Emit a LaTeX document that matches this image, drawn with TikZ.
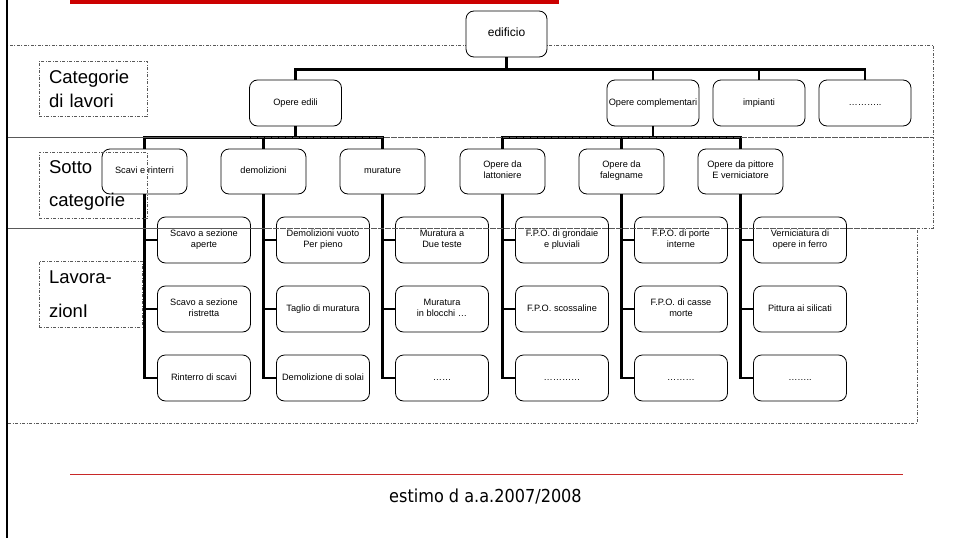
\documentclass[tikz,border=0pt]{standalone}
\usepackage{fontspec}
\setmainfont{Liberation Sans}
\newfontfamily\footfont{DejaVu Sans}[FakeStretch=0.9]
\usetikzlibrary{positioning}

\definecolor{barred}{RGB}{204,0,0}
\definecolor{linered}{RGB}{200,40,40}

\tikzset{
  box/.style={draw,rounded corners=8pt,fill=white,line width=0.8pt,align=center,
    inner sep=1pt,font=\fontsize{9.2}{11}\selectfont,
    execute at begin node={\strut},execute at end node={\strut}},
  topbox/.style={box,minimum width=81pt,minimum height=46pt,font=\fontsize{12}{14}\selectfont},
  catbox/.style={box,minimum width=92pt,minimum height=46pt},
  subbox/.style={box,minimum width=85pt,minimum height=45pt},
  workbox/.style={box,minimum width=93pt,minimum height=46pt},
  conn/.style={line width=2.8pt},
  band/.style={draw=black!65,line width=0.7pt,dash pattern=on 3pt off 1.5pt on 1pt off 1.5pt},
  bandlabel/.style={band,align=left,inner xsep=10pt,inner ysep=0pt}
}

\begin{document}
\begin{tikzpicture}[x=1pt,y=-1pt]
    \useasboundingbox (0,0) rectangle (953,538);

    % Top bar
    \fill[barred] (70,0) rectangle (559,4);

    % Categorie
    \node[catbox] (edili) at (295.5,103) {Opere edili};
    \node[catbox] (compl) at (653,103) {Opere complementari};
    \node[catbox] (impianti) at (759,103) {impianti};
    \node[catbox] (altrecat) at (865,103) {………..};

    % Sotto categorie
    \node[subbox] (scavi) at (144.5,171.5) {Scavi e rinterri};
    \node[subbox] (demol) at (263.5,171.5) {demolizioni};
    \node[subbox] (murat) at (382.5,171.5) {murature};
    \node[subbox] (latt) at (502.5,171.5) {Opere da\\lattoniere};
    \node[subbox] (faleg) at (621.5,171.5) {Opere da\\falegname};
    \node[subbox] (pitt) at (740.5,171.5) {Opere da pittore\\E verniciatore};

    % Lavorazioni
    \node[workbox] (scavoA) at (204,240) {Scavo a sezione\\aperte};
    \node[workbox] (scavoB) at (204,309) {Scavo a sezione\\ristretta};
    \node[workbox] (rinterro) at (204,378) {Rinterro di scavi};

    \node[workbox] (demolA) at (323,240) {Demolizioni vuoto\\Per pieno};
    \node[workbox] (demolB) at (323,309) {Taglio di muratura};
    \node[workbox] (demolC) at (323,378) {Demolizione di solai};

    \node[workbox] (muratA) at (442,240) {Muratura a\\Due teste};
    \node[workbox] (muratB) at (442,309) {Muratura\\in blocchi …};
    \node[workbox] (muratC) at (442,378) {……};

    \node[workbox] (lattA) at (562,240) {F.P.O. di grondaie\\e pluviali};
    \node[workbox] (lattB) at (562,309) {F.P.O. scossaline};
    \node[workbox] (lattC) at (562,378) {…………};

    \node[workbox] (falegA) at (681,240) {F.P.O. di porte\\interne};
    \node[workbox] (falegB) at (681,309) {F.P.O. di casse\\morte};
    \node[workbox] (falegC) at (681,378) {………};

    \node[workbox] (pittA) at (800,240) {Verniciatura di\\opere in ferro};
    \node[workbox] (pittB) at (800,309) {Pittura ai silicati};
    \node[workbox] (pittC) at (800,378) {……..};

    % Connectors to sotto categorie
    \draw[conn] (edili.south) -- ++(0,11) -| (scavi.north);
    \draw[conn] (edili.south) -- ++(0,11) -| (demol.north);
    \draw[conn] (edili.south) -- ++(0,11) -| (murat.north);
    \draw[conn] (compl.south) -- ++(0,11) -| (latt.north);
    \draw[conn] (compl.south) -- ++(0,11) -| (faleg.north);
    \draw[conn] (compl.south) -- ++(0,11) -| (pitt.north);

    % Connectors to lavorazioni
    \draw[conn] (scavi.south) |- (scavoA.west);
    \draw[conn] (scavi.south) |- (scavoB.west);
    \draw[conn] (scavi.south) |- (rinterro.west);
    \draw[conn] (demol.south) |- (demolA.west);
    \draw[conn] (demol.south) |- (demolB.west);
    \draw[conn] (demol.south) |- (demolC.west);
    \draw[conn] (murat.south) |- (muratA.west);
    \draw[conn] (murat.south) |- (muratB.west);
    \draw[conn] (murat.south) |- (muratC.west);
    \draw[conn] (latt.south) |- (lattA.west);
    \draw[conn] (latt.south) |- (lattB.west);
    \draw[conn] (latt.south) |- (lattC.west);
    \draw[conn] (faleg.south) |- (falegA.west);
    \draw[conn] (faleg.south) |- (falegB.west);
    \draw[conn] (faleg.south) |- (falegC.west);
    \draw[conn] (pitt.south) |- (pittA.west);
    \draw[conn] (pitt.south) |- (pittB.west);
    \draw[conn] (pitt.south) |- (pittC.west);

    % Bands
    \draw[band] (7,45) rectangle (933,137);
    \draw[band] (7,137) rectangle (933,228);
    \draw[band] (7,228) rectangle (917,423);

    % Band labels
    \node[bandlabel,minimum width=108pt,minimum height=55pt,text width=88pt,
      font=\fontsize{18.5}{24}\selectfont] (catlbl) at (93,88.5) {Categorie\\di lavori};
    \node[bandlabel,minimum width=108pt,minimum height=66pt,text width=88pt,
      font=\fontsize{18.5}{33}\selectfont] (sublbl) at (93,185) {Sotto\\categorie};
    \node[bandlabel,minimum width=103pt,minimum height=66pt,text width=83pt,
      font=\fontsize{18.5}{34}\selectfont] (worklbl) at (90.5,294) {Lavora-\\zionI};

    % Root
    \node[topbox] (edificio) at (506.5,34) {edificio};
    \draw[conn] (edificio.south) -- ++(0,12) -| (edili.north);
    \draw[conn] (edificio.south) -- ++(0,12) -| (compl.north);
    \draw[conn] (edificio.south) -- ++(0,12) -| (impianti.north);
    \draw[conn] (edificio.south) -- ++(0,12) -| (altrecat.north);

    % Left rule
    \draw[line width=2pt] (7,0) -- (7,538);

    % Footer
    \draw[linered,line width=1pt] (70,474) -- (903,474);
    \node[font=\footfont\fontsize{17.9}{20}\selectfont,anchor=base] (footer) at (485.5,502) {estimo d a.a.2007/2008};
\end{tikzpicture}
\end{document}
